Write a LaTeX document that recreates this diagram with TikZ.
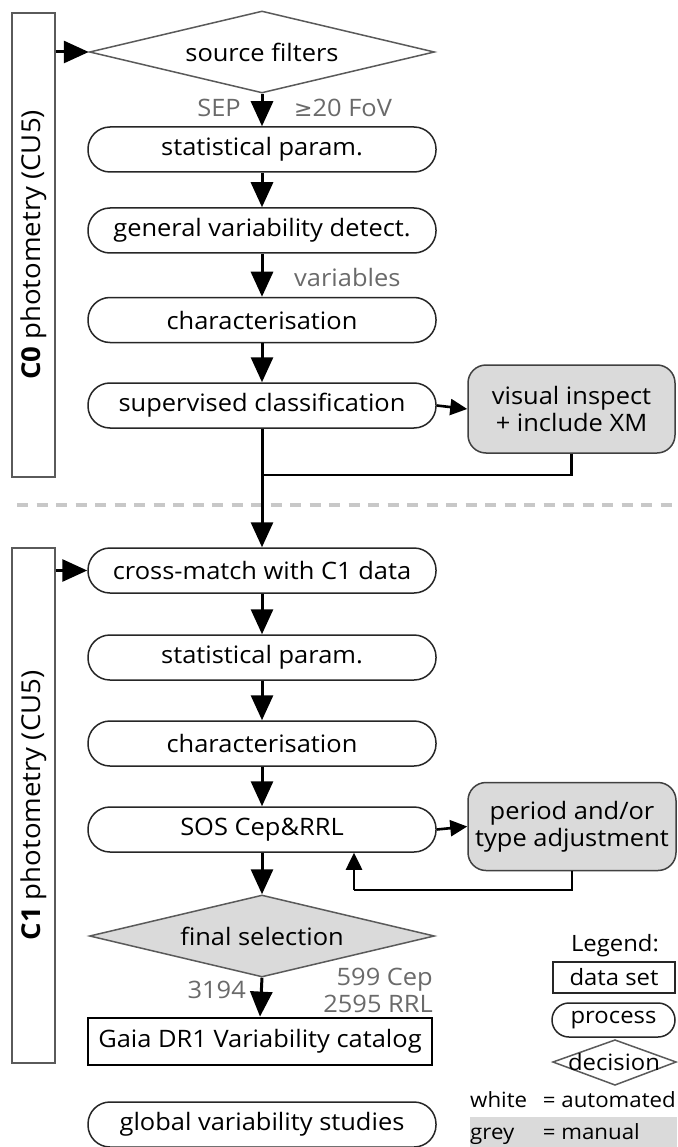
\documentclass[tikz,border=0pt]{standalone}
\usepackage{fontspec}
\setmainfont{Open Sans}[FakeStretch=1.06]
\newfontfamily\symfont{DejaVu Sans}
\usetikzlibrary{shapes.geometric,arrows.meta}
\definecolor{boxgrey}{HTML}{DADADA}
\definecolor{lblgrey}{HTML}{6A6A6A}
\definecolor{edgegrey}{HTML}{5A5A5A}
\definecolor{dashgrey}{HTML}{C8C8C8}
\newcommand{\msz}{\fontsize{24}{27}\selectfont}
\newcommand{\lsz}{\fontsize{22.5}{25}\selectfont}
\newcommand{\ksz}{\fontsize{21}{24}\selectfont}
\newcommand{\bsz}{\fontsize{26}{29}\selectfont}
\tikzset{
  proc/.style={draw=black!85, line width=1.5pt, rounded corners=22pt, minimum width=348pt, minimum height=45pt, font=\msz, fill=white, inner sep=0pt},
  manual/.style={draw=black!75, line width=1.5pt, rounded corners=18pt, fill=boxgrey, align=center, font=\msz, minimum width=207pt, minimum height=88pt, inner sep=0pt},
  dec/.style={diamond, draw=edgegrey, line width=1.5pt, aspect=4.2, minimum width=345pt, minimum height=82pt, inner sep=0pt, font=\msz},
  frame/.style={draw=edgegrey, line width=1.6pt, minimum width=43pt, inner sep=0pt},
  arr/.style={line width=3pt, -{Triangle[length=25pt,width=22pt]}},
  sarr/.style={line width=2.6pt, -{Triangle[length=17pt,width=16pt]}},
  ln/.style={line width=2.6pt},
  lbl/.style={text=lblgrey, font=\msz, inner sep=0pt},
  txt/.style={font=\lsz, inner sep=0pt},
  keytxt/.style={font=\ksz, inner sep=0pt}
}
\begin{document}
\begin{tikzpicture}[x=1pt,y=-1pt]
\useasboundingbox[fill=white] (0,0) rectangle (677,1147);

% section frames
\node[frame, minimum height=464pt] (c0) at (33.5,245) {};
\node[rotate=90, font=\bsz] (c0lbl) at (c0) {\textbf{C0} photometry (CU5)};
\node[frame, minimum height=515pt] (c1) at (33.5,805.5) {};
\node[rotate=90, font=\bsz] (c1lbl) at (c1) {\textbf{C1} photometry (CU5)};

% separator
\draw[dashgrey, line width=4pt, dash pattern=on 11pt off 8.5pt] (17,505) -- (677,505);

% C0 chain
\node[dec] (src) at (262,52) {source filters};
\node[proc] (stat1) at (262,149.5) {statistical param.};
\node[proc] (gen) at (262,230.5) {general variability detect.};
\node[proc] (char1) at (262,320) {characterisation};
\node[proc] (sup) at (262,405.5) {supervised classification};
\node[manual] (vis) at (571.5,409) {visual inspect\\+ include XM};

\node[lbl, anchor=east] (sep) at (241,108) {SEP};
\node[lbl, anchor=west] (fov) at (294,108) {{\symfont\fontsize{22}{24}\selectfont ≥}20 FoV};
\node[lbl, anchor=west] (vars) at (294,278) {variables};

\draw[arr] (c0.east |- src.west) -- (src.west);
\draw[arr] (src.south) -- (stat1.north);
\draw[arr] (stat1.south) -- (gen.north);
\draw[arr] (gen.south) -- (char1.north);
\draw[arr] (char1.south) -- (sup.north);
\draw[sarr] (sup.east) -- (vis.west);

% C1 chain
\node[proc] (xm) at (262,570.5) {cross-match with C1 data};
\node[proc] (stat2) at (262,657.5) {statistical param.};
\node[proc] (char2) at (262,743.5) {characterisation};
\node[proc] (sos) at (262,829.5) {SOS Cep\&RRL};
\node[manual, minimum width=208pt] (per) at (572,826.5) {period and/or\\type adjustment};
\node[dec, fill=boxgrey] (fin) at (262,936) {final selection};
\node[draw=black, line width=2.8pt, minimum width=344pt, minimum height=47pt, font=\msz, inner sep=0pt] (gaia) at (260,1041.5) {Gaia DR1 Variability catalog};
\node[proc] (glob) at (262,1124.5) {global variability studies};

\coordinate (j1) at (262,475);
\draw[arr] (sup.south) -- (xm.north);
\draw[ln] (vis.south) |- (j1);
\draw[arr] (c1.east |- xm.west) -- (xm.west);
\draw[arr] (xm.south) -- (stat2.north);
\draw[arr] (stat2.south) -- (char2.north);
\draw[arr] (char2.south) -- (sos.north);
\draw[sarr] (sos.east) -- (per.west);
\coordinate (fb) at (354,890);
\draw[ln] (per.south) |- (fb);
\draw[sarr] (fb) -- (fb |- sos.south);
\draw[arr] (sos.south) -- (fin.north);
\draw[arr] (fin.south) -- (gaia.north);

\node[lbl, anchor=east] (n3194) at (246,990) {3194};
\node[lbl, anchor=east, align=right] (ncep) at (433,990) {599 Cep\\2595 RRL};

% legend
\node[txt] (leg) at (615,946) {Legend:};
\node[draw=black!85, line width=1.5pt, minimum width=122pt, minimum height=31pt, font=\lsz, inner sep=0pt] (ldata) at (614,977.5) {data set};
\node[proc, font=\lsz, minimum width=123pt, minimum height=34pt, rounded corners=17pt] (lproc) at (613.5,1020) {process};
\draw[draw=edgegrey, line width=1.5pt] (553,1062) -- (615,1040) -- (676,1062) -- (615,1085) -- cycle;
\node[txt] (ldec) at (614,1062) {decision};
\fill[boxgrey] (470,1117) rectangle (677,1147);
\node[keytxt, anchor=base west] (lwhite) at (470,1107) {white};
\node[keytxt, anchor=base east] (lweq) at (676,1107) {= automated};
\node[keytxt, anchor=base west] (lgrey) at (470,1139) {grey};
\node[keytxt, anchor=base west] (lgeq) at (lweq.base west |- lgrey.base) {= manual};
\end{tikzpicture}
\end{document}
